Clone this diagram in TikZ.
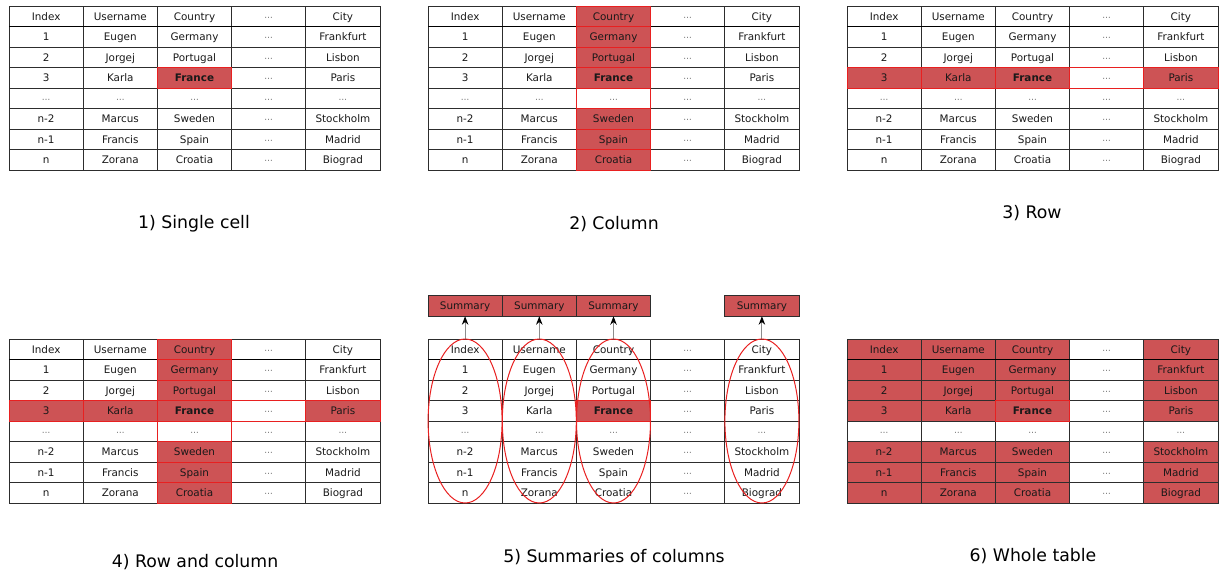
\documentclass[tikz,border=0pt]{standalone}
\usepackage{fontspec}
\setmainfont{DejaVu Sans}
\usetikzlibrary{arrows.meta,calc}
\definecolor{hlred}{RGB}{205,83,85}
\definecolor{hlb}{RGB}{232,32,32}
\definecolor{gridc}{RGB}{45,45,45}
\definecolor{textc}{RGB}{25,25,25}
\definecolor{dotgray}{RGB}{100,100,100}
\definecolor{arrgray}{RGB}{140,140,140}
\newcommand\dd{{\fontsize{8.5}{8.5}\selectfont\color{dotgray}⋯}}
\tikzset{
  cell/.style={minimum width=74.2pt, minimum height=20.5pt, inner sep=0pt, outer sep=0pt,
    font=\fontsize{10.4}{12}\selectfont, text=textc, text height=7.7pt, text depth=0pt},
  hlfill/.style={fill=hlred},
  gridl/.style={draw=gridc, line width=0.8pt},
  headl/.style={draw=black, line width=1.6pt},
  hlborder/.style={draw=hlb, line width=1pt},
  ellred/.style={draw=hlb, line width=1pt},
  sumbox/.style={cell, fill=hlred, draw=gridc, line width=0.8pt},
  arr/.style={draw=arrgray, line width=1pt, -{Stealth[length=8.5pt, width=6.5pt, color=black]}},
  caption/.style={font=\fontsize{17.3}{20}\selectfont, text=black, anchor=base, inner sep=0pt},
  % table specific fills
  t1 cell3-3/.style={hlfill},
  t2 col3/.style={hlfill}, t2 cell4-3/.style={fill=white},
  t3 row3/.style={hlfill}, t3 cell3-4/.style={fill=white},
  t4 col3/.style={hlfill}, t4 row3/.style={hlfill}, t4 cell4-3/.style={fill=white}, t4 cell3-4/.style={fill=white},
  t5 cell3-3/.style={hlfill},
  t6 col1/.style={hlfill}, t6 col2/.style={hlfill}, t6 col3/.style={hlfill}, t6 col5/.style={hlfill},
  t6 row4/.style={fill=white},
}
\newcommand\mktable[3]{%
  \foreach \r/\va/\vb/\vc/\vd/\ve in {0/Index/Username/Country/\dd/City,
      1/1/Eugen/Germany/\dd/Frankfurt,
      2/2/Jorgej/Portugal/\dd/Lisbon,
      3/3/Karla/\textbf{France}/\dd/Paris,
      4/\dd/\dd/\dd/\dd/\dd,
      5/n-2/Marcus/Sweden/\dd/Stockholm,
      6/n-1/Francis/Spain/\dd/Madrid,
      7/n/Zorana/Croatia/\dd/Biograd}{
    \foreach \c/\vx in {1/\va,2/\vb,3/\vc,4/\vd,5/\ve}{
      \node[cell, #1 col\c/.try, #1 row\r/.try, #1 cell\r-\c/.try] (#1-\r-\c)
        at ({#2+74.2*(\c-1)+37.1},{#3+20.5*\r+10.25}) {\vx};
    }
  }
  \foreach \r in {0,...,7}{\foreach \c in {1,...,5}{
    \draw[gridl] (#1-\r-\c.north west) rectangle (#1-\r-\c.south east);}}
  \draw[headl] (#1-0-1.south west) -- (#1-0-5.south east);
}
\begin{document}
\begin{tikzpicture}[x=1pt,y=-1pt]
\useasboundingbox (0,0) rectangle (1219,570);
\mktable{t1}{9}{6}
\mktable{t2}{428}{6}
\mktable{t3}{847}{6}
\mktable{t4}{9}{339}
\mktable{t5}{428}{339}
\mktable{t6}{847}{339}
% red borders
\draw[hlborder] (t1-3-3.north west) rectangle (t1-3-3.south east);
\foreach \r in {0,...,7}{\draw[hlborder] (t2-\r-3.north west) rectangle (t2-\r-3.south east);}
\foreach \c in {1,...,5}{\draw[hlborder] (t3-3-\c.north west) rectangle (t3-3-\c.south east);}
\foreach \r in {0,...,7}{\draw[hlborder] (t4-\r-3.north west) rectangle (t4-\r-3.south east);}
\foreach \c in {1,...,5}{\draw[hlborder] (t4-3-\c.north west) rectangle (t4-3-\c.south east);}
\draw[hlborder] (t5-3-3.north west) rectangle (t5-3-3.south east);
\draw[hlborder] (t6-3-3.north west) rectangle (t6-3-3.south east);
% summaries
\foreach \c in {1,2,3,5}{
  \node[sumbox] (s\c) at ({428+74.2*(\c-1)+37.1},306) {Summary};
  \draw[arr] (t5-0-\c.north) -- (s\c.south);
  \draw[ellred] ($(t5-0-\c.north)!0.5!(t5-7-\c.south)$) ellipse [x radius=37pt, y radius=82pt];
}
% captions
\node[caption] (cap1) at (194,228) {1) Single cell};
\node[caption] (cap2) at (614,229) {2) Column};
\node[caption] (cap3) at (1032,218) {3) Row};
\node[caption] (cap4) at (195,567) {4) Row and column};
\node[caption] (cap5) at (614,562) {5) Summaries of columns};
\node[caption] (cap6) at (1033,561) {6) Whole table};
\end{tikzpicture}
\end{document}
